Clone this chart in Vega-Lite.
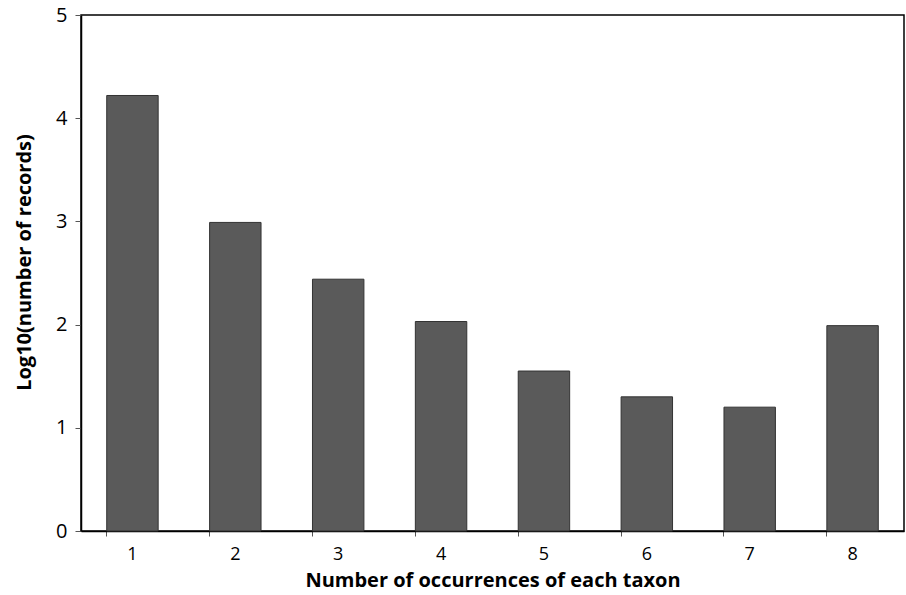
{
  "$schema": "https://vega.github.io/schema/vega-lite/v6.json",
  "autosize": "none",
  "width": 823,
  "height": 516,
  "padding": {"left": 81, "top": 15, "right": 2, "bottom": 64},
  "background": "white",
  "config": {
    "view": {"stroke": "black", "strokeWidth": 1.5},
    "font": "Open Sans"
  },
  "data": {
    "values": [
      {"occ": "1", "val": 4.22},
      {"occ": "2", "val": 2.99},
      {"occ": "3", "val": 2.44},
      {"occ": "4", "val": 2.03},
      {"occ": "5", "val": 1.55},
      {"occ": "6", "val": 1.30},
      {"occ": "7", "val": 1.20},
      {"occ": "8", "val": 1.99}
    ]
  },
  "mark": {"type": "bar", "color": "#5a5a5a", "stroke": "#333333", "strokeWidth": 1},
  "encoding": {
    "x": {
      "field": "occ",
      "type": "ordinal",
      "scale": {"paddingInner": 0.5, "paddingOuter": 0.25},
      "axis": {
        "title": "Number of occurrences of each taxon",
        "titleFont": "Open Sans",
        "titleFontSize": 20,
        "titleFontWeight": "bold",
        "titleColor": "black",
        "titlePadding": 7,
        "labelAngle": 0,
        "labelFontSize": 18,
        "labelColor": "black",
        "labelPadding": 9,
        "bandPosition": 0,
        "ticks": true,
        "tickSize": 5,
        "tickColor": "#555555",
        "domainColor": "black",
        "domainWidth": 1.5
      }
    },
    "y": {
      "field": "val",
      "type": "quantitative",
      "scale": {"domain": [0, 5]},
      "axis": {
        "title": "Log10(number of records)",
        "titleFont": "Open Sans",
        "titleFontSize": 20,
        "titleFontWeight": "bold",
        "titleColor": "black",
        "titlePadding": 21,
        "titleY": 247,
        "values": [0, 1, 2, 3, 4, 5],
        "format": "d",
        "grid": false,
        "labelFontSize": 20,
        "labelColor": "black",
        "labelPadding": 8,
        "tickSize": 6,
        "tickColor": "#555555",
        "domainColor": "black",
        "domainWidth": 1.5
      }
    }
  }
}
